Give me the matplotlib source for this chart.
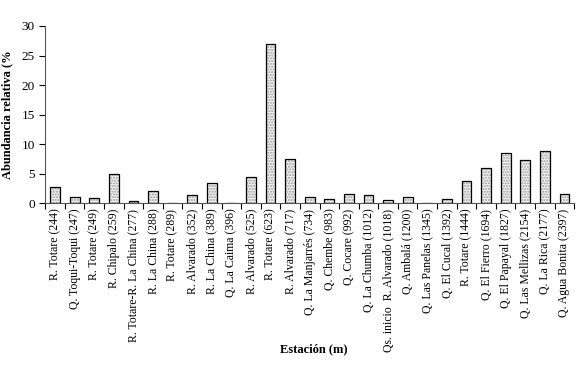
import numpy as np
import matplotlib.pyplot as plt

plt.rcParams['font.family'] = ['Liberation Serif', 'DejaVu Serif']

estaciones = [
    'R. Totare (244)', 'Q. Toqui-Toqui (247)', 'R. Totare (249)', 'R. Chipalo (259)',
    'R. Totare-R. La China (277)', 'R. La China (288)', 'R. Totare (289)',
    'R. Alvarado (352)', 'R. La China (389)', 'Q. La Caima (396)', 'R. Alvarado (525)',
    'R. Totare (623)', 'R. Alvarado (717)', 'Q. La Manjarrés (734)', 'Q. Chembe (983)',
    'Q. Cocare (992)', 'Q. La Chumba (1012)', 'Qs. inicio  R. Alvarado (1018)',
    'Q. Ambalá (1200)', 'Q. Las Panelas (1345)', 'Q. El Cucal (1392)', 'R. Totare (1444)',
    'Q. El Fierro (1694)', 'Q. El Papayal (1827)', 'Q. Las Mellizas (2154)',
    'Q. La Rica (2177)', 'Q. Agua Bonita (2397)',
]
abundancia = [2.8, 1.0, 0.9, 4.9, 0.3, 2.0, 0.1, 1.3, 3.4, 0.0, 4.5, 27.0, 7.4,
              1.0, 0.7, 1.5, 1.3, 0.5, 1.1, 0.0, 0.7, 3.7, 6.0, 8.5, 7.3, 8.9, 1.6]

fig = plt.figure(figsize=(5.8, 3.66), dpi=100)
ax = fig.add_axes([0.078, 0.445, 0.912, 0.484])

x = np.arange(len(estaciones))
# dotted fill, then black outline
ax.bar(x, abundancia, width=0.5, color='#f2f2f2', hatch='......',
       edgecolor='#9a9a9a', linewidth=0)
ax.bar(x, abundancia, width=0.5, fill=False, edgecolor='black', linewidth=0.9)

ax.set_xlim(-0.5, len(estaciones) - 0.5)
ax.set_ylim(0, 30)
ax.set_yticks(range(0, 31, 5))
ax.set_xticks(x)
ax.set_xticklabels(estaciones, rotation=90, fontsize=8.5)
ax.tick_params(axis='x', length=0, pad=4)
ax.set_xticks(np.arange(-0.5, len(estaciones)), minor=True)
ax.tick_params(axis='x', which='minor', length=4, direction='out', width=0.8)
ax.tick_params(axis='y', labelsize=9.5, length=4, width=0.8)

for s in ['top', 'right']:
    ax.spines[s].set_visible(False)
ax.spines['left'].set_color('#555555')
ax.spines['bottom'].set_color('#555555')

ax.set_ylabel('Abundancia relativa (%', fontsize=9, fontweight='bold', labelpad=6)
fig.text(0.541, 0.047, 'Estación (m)', fontsize=9, fontweight='bold',
         ha='center', va='center')

fig.savefig('out.png', dpi=100)
